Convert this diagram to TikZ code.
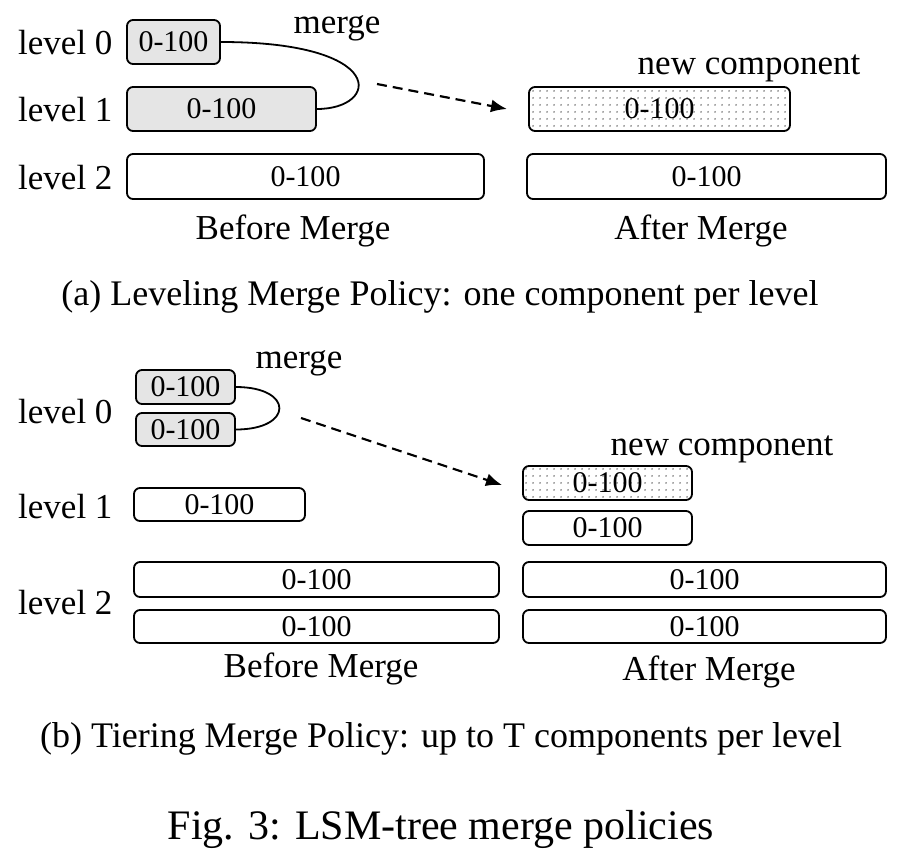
\documentclass[tikz,border=0pt]{standalone}
\usepackage{fontspec}
\setmainfont{Liberation Serif}
\usetikzlibrary{arrows.meta,patterns.meta,positioning}

\begin{document}
\begin{tikzpicture}[x=1pt,y=-1pt,
        comp/.style={draw,line width=1.8pt,rounded corners=6pt,inner sep=0pt,
            font=\fontsize{30}{34}\selectfont},
        old/.style={comp,fill=black!10},
        new/.style={comp,pattern={Dots[distance=6.5pt,radius=1pt]},pattern color=black!50},
        lbl/.style={anchor=base,inner sep=0pt,font=\fontsize{35}{42}\selectfont},
        lvl/.style={lbl,anchor=base west},
        captext/.style={lbl,font=\fontsize{36}{42}\selectfont},
        flow/.style={line width=2.2pt,dash pattern=on 10pt off 6pt,-{Latex[length=16pt,width=13pt]}}]
        \useasboundingbox (0,0) rectangle (909,854);
        % (a) leveling
        \node[lvl] (la0) at (18,54) {level 0};
        \node[lvl] (la1) at (18,121) {level 1};
        \node[lvl] (la2) at (18,189) {level 2};
        \node[old,minimum width=93pt,minimum height=44pt] (a0) at (173.5,42) {0-100};
        \node[old,minimum width=189pt,minimum height=44pt] (a1) at (221.5,109) {0-100};
        \node[comp,minimum width=357pt,minimum height=45pt] (a2) at (305.5,176.5) {0-100};
        \node[new,minimum width=261pt,minimum height=44pt] (an) at (659.5,109) {0-100};
        \node[comp,minimum width=359pt,minimum height=45pt] (an2) at (706.5,176.5) {0-100};
        \draw[line width=1.8pt] (a0.east) .. controls +(168,0) and +(63,0) .. (a1.east);
        \node[lbl] (ma) at (337,33) {merge};
        \node[lbl] (na) at (749,74) {new component};
        \coordinate (fa) at (377,84);
        \coordinate (ta) at (507,109);
        \draw[flow] (fa) -- (ta);
        \node[lbl] (bfa) at (293,239) {Before Merge};
        \node[lbl] (afa) at (701,239) {After Merge};
        \node[captext] (capa) at (440,305) {(a) Leveling Merge Policy: one component per level};
        % (b) tiering
        \node[lvl] (lb0) at (18,423) {level 0};
        \node[lvl] (lb1) at (18,518) {level 1};
        \node[lvl] (lb2) at (18,614) {level 2};
        \node[old,minimum width=99pt,minimum height=34pt] (b0) at (185.5,387) {0-100};
        \node[old,minimum width=99pt,minimum height=33pt] (b0x) at (185.5,429.5) {0-100};
        \node[comp,minimum width=171pt,minimum height=33pt] (b1) at (219.5,504.5) {0-100};
        \node[comp,minimum width=365pt,minimum height=35pt] (b2) at (316.5,579.5) {0-100};
        \node[comp,minimum width=365pt,minimum height=33pt] (b2x) at (316.5,626.5) {0-100};
        \node[new,minimum width=169pt,minimum height=34pt] (bn) at (607.5,483) {0-100};
        \node[comp,minimum width=169pt,minimum height=34pt] (bn1) at (607.5,528) {0-100};
        \node[comp,minimum width=363pt,minimum height=35pt] (bn2) at (704.5,579.5) {0-100};
        \node[comp,minimum width=363pt,minimum height=33pt] (bn2x) at (704.5,626.5) {0-100};
        \draw[line width=1.8pt] (b0.east) .. controls +(58,0) and +(58,0) .. (b0x.east);
        \node[lbl] (mb) at (299,368) {merge};
        \node[lbl] (nb) at (722,455) {new component};
        \coordinate (fb) at (301,418);
        \coordinate (tb) at (502,485);
        \draw[flow] (fb) -- (tb);
        \node[lbl] (bfb) at (321,677) {Before Merge};
        \node[lbl] (afb) at (709,680) {After Merge};
        \node[captext] (capb) at (441,747) {(b) Tiering Merge Policy: up to T components per level};
        \node[lbl,font=\fontsize{42}{50}\selectfont] (fig) at (441,839) {Fig. 3: LSM-tree merge policies};
    \end{tikzpicture}
\end{document}
